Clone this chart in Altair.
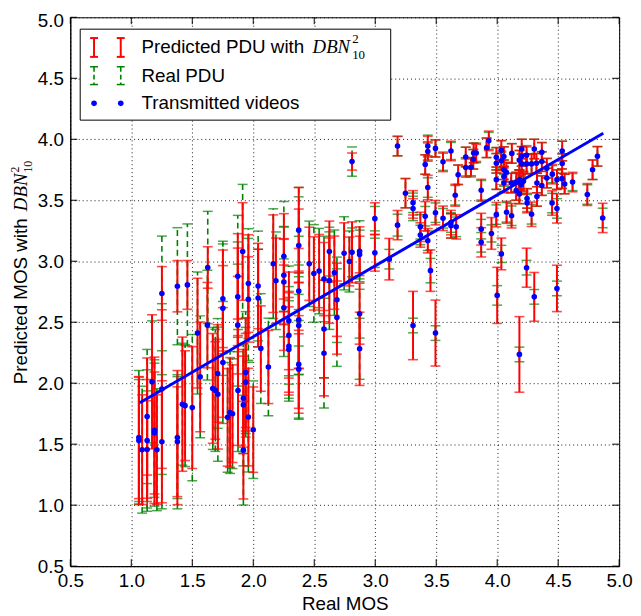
import altair as alt
import pandas as pd

# ---- data ----
real_mos = [1.062, 1.062, 1.089, 1.130, 1.130, 1.130, 1.170, 1.190, 1.190, 1.210,
            1.251, 1.251, 1.251, 1.378, 1.460, 1.378, 1.378, 1.419, 1.441, 1.500,
            1.543, 1.565, 1.624, 1.627, 1.668, 1.689, 1.708, 1.710, 1.751, 1.751,
            1.751, 1.790, 1.810, 1.830, 1.873, 1.873, 1.873, 1.875, 1.913, 1.919,
            1.919, 1.919, 1.938, 1.938, 1.960, 1.960, 1.960, 2.000, 2.040, 2.040,
            2.062, 2.124, 2.164, 2.186, 2.251, 2.251, 2.251, 2.251, 2.292, 2.292,
            2.292, 2.292, 2.373, 2.373, 2.373, 2.373, 2.373, 2.373, 2.373, 2.459,
            2.497, 2.540, 2.580, 2.624, 2.665, 2.624, 2.686, 2.686, 2.580, 2.580,
            2.745, 2.788, 2.810, 2.872, 2.872, 2.872, 2.872, 2.997, 2.997, 2.810,
            3.115, 3.183, 3.183, 3.248, 3.310, 3.310, 3.310, 3.370, 3.370, 3.410,
            3.410, 3.431, 3.431, 3.431, 3.431, 3.453, 3.494, 3.494, 3.494, 3.556,
            3.556, 3.621, 3.621, 3.621, 3.656, 3.664, 3.680, 3.742, 3.742, 3.785,
            3.804, 3.807, 3.828, 3.869, 3.869, 3.869, 3.913, 3.931, 3.953, 3.993,
            3.993, 3.993, 3.993, 4.000, 4.034, 4.034, 4.034, 4.055, 4.055, 4.055,
            4.055, 4.075, 4.077, 4.118, 4.115, 4.120, 4.156, 4.156, 4.182, 4.182,
            4.182, 4.182, 4.196, 4.201, 4.201, 4.201, 4.215, 4.241, 4.241, 4.241,
            4.245, 4.245, 4.282, 4.282, 4.304, 4.304, 4.322, 4.326, 4.326, 4.366,
            4.366, 4.366, 4.407, 4.407, 4.452, 4.450, 4.490, 4.490, 4.490, 4.531,
            4.533, 4.533, 4.553, 4.618, 4.739, 4.782, 4.822, 4.865]
pred_mos = [1.554, 1.530, 1.455, 1.727, 1.530, 1.457, 2.011, 1.614, 1.592, 1.455,
            1.952, 1.520, 2.736, 2.795, 2.806, 1.554, 1.520, 1.828, 1.816, 1.800,
            2.411, 2.052, 2.476, 2.949, 1.957, 1.941, 2.080, 1.910, 2.692, 2.614,
            2.170, 1.720, 1.760, 1.750, 2.876, 2.708, 2.476, 1.940, 3.080, 1.876,
            1.822, 1.451, 2.087, 2.008, 2.817, 2.687, 1.722, 1.619, 2.797, 2.698,
            2.284, 2.133, 2.980, 2.840, 3.040, 2.885, 2.830, 2.619, 2.511, 2.392,
            2.303, 2.276, 3.255, 3.128, 2.755, 2.519, 2.473, 2.154, 2.114, 2.979,
            2.900, 2.919, 2.854, 2.841, 2.906, 3.079, 2.684, 2.538, 2.444, 2.246,
            3.065, 2.998, 3.073, 3.082, 3.055, 2.570, 2.282, 3.349, 3.069, 3.817,
            3.017, 3.944, 3.296, 3.558, 3.479, 3.433, 2.473, 3.282, 3.215, 3.793,
            3.369, 3.944, 3.900, 3.604, 3.168, 2.923, 3.925, 3.398, 2.411, 3.815,
            3.352, 3.904, 3.317, 3.290, 3.541, 3.282, 3.709, 3.855, 3.769, 3.771,
            3.836, 3.888, 3.888, 3.582, 3.263, 3.155, 3.930, 3.987, 3.228, 3.852,
            3.803, 3.669, 3.382, 2.720, 3.909, 3.823, 3.060, 3.858, 3.750, 3.695,
            3.641, 3.730, 3.401, 3.373, 3.641, 3.884, 3.649, 3.580, 3.828, 3.669,
            3.552, 2.236, 3.628, 3.920, 3.860, 3.798, 3.655, 3.868, 3.798, 2.947,
            3.515, 3.477, 3.798, 3.385, 3.920, 2.708, 3.803, 3.641, 3.531, 3.893,
            3.817, 3.620, 3.763, 3.682, 3.714, 3.477, 3.669, 3.433, 2.777, 3.677,
            3.904, 3.801, 3.633, 3.649, 3.547, 3.750, 3.860, 3.355]
pred_pdu = [0.50, 0.52, 0.45, 0.48, 0.50, 0.40, 0.55, 0.60, 0.50, 0.45,
            0.65, 0.50, 0.22, 0.21, 0.20, 0.55, 0.45, 0.55, 0.45, 0.50,
            0.45, 0.45, 0.35, 0.17, 0.45, 0.40, 0.40, 0.45, 0.40, 0.35,
            0.45, 0.40, 0.45, 0.40, 0.35, 0.40, 0.40, 0.45, 0.40, 0.40,
            0.40, 0.40, 0.45, 0.40, 0.40, 0.35, 0.40, 0.35, 0.35, 0.40,
            0.35, 0.30, 0.40, 0.35, 0.35, 0.30, 0.35, 0.35, 0.40, 0.35,
            0.40, 0.35, 0.35, 0.30, 0.35, 0.40, 0.35, 0.40, 0.32, 0.30,
            0.30, 0.30, 0.30, 0.35, 0.30, 0.25, 0.30, 0.30, 0.40, 0.35,
            0.25, 0.20, 0.25, 0.20, 0.15, 0.25, 0.30, 0.13, 0.15, 0.07,
            0.17, 0.08, 0.12, 0.12, 0.10, 0.08, 0.28, 0.12, 0.10, 0.08,
            0.12, 0.08, 0.07, 0.10, 0.10, 0.17, 0.07, 0.10, 0.27, 0.08,
            0.10, 0.08, 0.10, 0.10, 0.09, 0.10, 0.08, 0.08, 0.08, 0.07,
            0.08, 0.08, 0.07, 0.09, 0.13, 0.12, 0.08, 0.08, 0.13, 0.08,
            0.08, 0.08, 0.10, 0.23, 0.08, 0.08, 0.13, 0.08, 0.08, 0.07,
            0.08, 0.08, 0.09, 0.10, 0.08, 0.08, 0.08, 0.08, 0.08, 0.08,
            0.08, 0.31, 0.08, 0.08, 0.08, 0.08, 0.08, 0.07, 0.08, 0.16,
            0.08, 0.08, 0.08, 0.10, 0.08, 0.20, 0.08, 0.08, 0.08, 0.08,
            0.08, 0.08, 0.08, 0.08, 0.08, 0.10, 0.08, 0.12, 0.19, 0.08,
            0.08, 0.08, 0.08, 0.08, 0.09, 0.08, 0.08, 0.12]
real_pdu = [0.55, 0.50, 0.52, 0.55, 0.58, 0.48, 0.50, 0.55, 0.60, 0.50,
            0.70, 0.55, 0.47, 0.48, 0.50, 0.50, 0.55, 0.50, 0.50, 0.60,
            0.50, 0.50, 0.45, 0.46, 0.50, 0.50, 0.45, 0.55, 0.45, 0.55,
            0.50, 0.45, 0.50, 0.45, 0.50, 0.45, 0.50, 0.50, 0.55, 0.45,
            0.50, 0.45, 0.50, 0.45, 0.45, 0.50, 0.45, 0.40, 0.45, 0.40,
            0.45, 0.40, 0.45, 0.40, 0.45, 0.40, 0.45, 0.40, 0.45, 0.40,
            0.45, 0.40, 0.35, 0.40, 0.45, 0.45, 0.40, 0.45, 0.40, 0.35,
            0.40, 0.35, 0.35, 0.40, 0.35, 0.20, 0.35, 0.40, 0.40, 0.45,
            0.30, 0.25, 0.20, 0.25, 0.20, 0.20, 0.25, 0.10, 0.12, 0.12,
            0.08, 0.08, 0.09, 0.12, 0.08, 0.10, 0.06, 0.10, 0.08, 0.08,
            0.08, 0.09, 0.08, 0.08, 0.08, 0.10, 0.07, 0.08, 0.06, 0.07,
            0.08, 0.07, 0.08, 0.10, 0.08, 0.08, 0.08, 0.08, 0.07, 0.08,
            0.08, 0.08, 0.08, 0.08, 0.08, 0.08, 0.08, 0.07, 0.07, 0.08,
            0.08, 0.08, 0.08, 0.08, 0.08, 0.07, 0.07, 0.08, 0.08, 0.08,
            0.07, 0.08, 0.08, 0.08, 0.08, 0.08, 0.08, 0.08, 0.08, 0.08,
            0.08, 0.06, 0.07, 0.08, 0.08, 0.08, 0.08, 0.08, 0.08, 0.06,
            0.08, 0.07, 0.08, 0.08, 0.08, 0.06, 0.08, 0.08, 0.08, 0.08,
            0.08, 0.08, 0.08, 0.08, 0.07, 0.08, 0.08, 0.08, 0.06, 0.08,
            0.08, 0.08, 0.08, 0.07, 0.08, 0.08, 0.08, 0.08]

# fitted line as drawn (end points)
line_x = [1.07, 4.87]
line_y = [1.84, 4.05]

tick_values = [0.5, 1.0, 1.5, 2.0, 2.5, 3.0, 3.5, 4.0, 4.5, 5.0]

W, H = 555, 555
FONT = "Liberation Sans"
SERIF = "Liberation Serif"
RED, GREEN, BLUE = "#ff0000", "#008000", "#0000ff"

df = pd.DataFrame({"real": real_mos, "pred": pred_mos,
                   "ppdu": pred_pdu, "rpdu": real_pdu})
df_line = pd.DataFrame({"real": line_x, "pred": line_y})
df_ticks = pd.DataFrame({"real": tick_values, "pred": tick_values})
one = pd.DataFrame({"k": [0]})

xs = alt.Scale(domain=[0.5, 5.0], nice=False, zero=False)
ys = alt.Scale(domain=[0.5, 5.0], nice=False, zero=False)
xaxis = alt.Axis(values=tick_values, format=".1f", title="Real MOS",
                 labelPadding=6, titlePadding=4, grid=True, labelFlush=False)
yaxis = alt.Axis(values=tick_values, format=".1f", title="", labelPadding=7, grid=True,
                 labelFlush=False,
                 labelBaseline={"expr": "datum.value >= 4.99 ? 'top' : 'middle'"},
                 labelOffset={"expr": "datum.value >= 4.99 ? -6 : 0"})

X = alt.X("real:Q", scale=xs, axis=xaxis)

def Y(field):
    return alt.Y(field, type="quantitative", scale=ys, axis=yaxis)

base = alt.Chart(df).transform_calculate(
    rlo="datum.pred - datum.ppdu", rhi="datum.pred + datum.ppdu",
    glo="datum.pred - datum.rpdu", ghi="datum.pred + datum.rpdu")

green_bar = base.mark_rule(color=GREEN, strokeWidth=1.6, strokeDash=[6, 4]).encode(
    x=X, y=Y("glo"), y2="ghi:Q")
green_cap1 = base.mark_tick(color=GREEN, orient="horizontal", size=10, thickness=1.5).encode(
    x=X, y=Y("glo"))
green_cap2 = base.mark_tick(color=GREEN, orient="horizontal", size=10, thickness=1.5).encode(
    x=X, y=Y("ghi"))
red_bar = base.mark_rule(color=RED, strokeWidth=2).encode(
    x=X, y=Y("rlo"), y2="rhi:Q")
red_cap1 = base.mark_tick(color=RED, orient="horizontal", size=10, thickness=1.6).encode(
    x=X, y=Y("rlo"))
red_cap2 = base.mark_tick(color=RED, orient="horizontal", size=10, thickness=1.6).encode(
    x=X, y=Y("rhi"))
dots = alt.Chart(df).mark_point(filled=True, color=BLUE, size=32, opacity=1).encode(
    x=X, y=Y("pred"))
fit = alt.Chart(df_line).mark_line(color=BLUE, strokeWidth=3).encode(
    x=X, y=Y("pred"))

# inward ticks on all four sides
TL = 7
tk = alt.Chart(df_ticks)
tick_b = tk.mark_rule(color="black").encode(x=X, y=alt.value(H), y2=alt.value(H - TL))
tick_t = tk.mark_rule(color="black").encode(x=X, y=alt.value(0), y2=alt.value(TL))
tick_l = tk.mark_rule(color="black").encode(y=Y("pred"), x=alt.value(0), x2=alt.value(TL))
tick_r = tk.mark_rule(color="black").encode(y=Y("pred"), x=alt.value(W), x2=alt.value(W - TL))

# legend (decoration)
leg_box = alt.Chart(one).mark_rect(fill="white", stroke="black", strokeWidth=1).encode(
    x=alt.value(10), x2=alt.value(324), y=alt.value(12), y2=alt.value(104))
seg_red = pd.DataFrame({
    "x1": [24, 51, 20, 20, 47, 47], "x2": [24, 51, 28, 28, 55, 55],
    "y1": [21, 21, 21, 40, 21, 40], "y2": [40, 40, 21, 40, 21, 40]})
seg_green_v = pd.DataFrame({"x1": [24, 51], "x2": [24, 51], "y1": [50, 50], "y2": [68, 68]})
seg_green_c = pd.DataFrame({
    "x1": [20, 20, 47, 47], "x2": [28, 28, 55, 55],
    "y1": [50, 68, 50, 68], "y2": [50, 68, 50, 68]})
def seg_enc(ch):
    return ch.encode(x=alt.X("x1:Q", scale=None), x2="x2:Q",
                     y=alt.Y("y1:Q", scale=None), y2="y2:Q")
leg_red = seg_enc(alt.Chart(seg_red).mark_rule(color=RED, strokeWidth=2))
leg_green_v = seg_enc(alt.Chart(seg_green_v).mark_rule(color=GREEN, strokeWidth=1.6, strokeDash=[5, 3]))
leg_green_c = seg_enc(alt.Chart(seg_green_c).mark_rule(color=GREEN, strokeWidth=1.5))
leg_dots = alt.Chart(pd.DataFrame({"x": [24, 51], "y": [87, 87]})).mark_point(
    filled=True, color=BLUE, size=32, opacity=1).encode(
    x=alt.X("x:Q", scale=None), y=alt.Y("y:Q", scale=None))

def txt(text, x, y, size=19, font=FONT, style="normal", angle=0, align="left"):
    return alt.Chart(one).mark_text(text=text, font=font, fontSize=size, fontStyle=style,
                                    align=align, baseline="middle", angle=angle,
                                    color="black").encode(x=alt.value(x), y=alt.value(y))

leg_texts = [
    txt("Predicted PDU with", 72, 30),
    txt("DBN", 245, 30, font=SERIF, style="italic"),
    txt("2", 285, 22, size=13, font=SERIF),
    txt("10", 285, 38, size=13, font=SERIF),
    txt("Real PDU", 72, 59),
    txt("Transmitted videos", 72, 87),
]

ytitle = [
    txt("Predicted MOS with", -50, 371, angle=270),
    txt("DBN", -50, 196, font=SERIF, style="italic", angle=270),
    txt("2", -56, 157, size=12, font=SERIF, angle=270),
    txt("10", -43, 157, size=12, font=SERIF, angle=270),
]

chart = alt.layer(
    green_bar, green_cap1, green_cap2, red_bar, red_cap1, red_cap2, fit, dots,
    tick_b, tick_t, tick_l, tick_r,
    leg_box, leg_red, leg_green_v, leg_green_c, leg_dots, *leg_texts, *ytitle
).properties(
    width=W, height=H,
    autosize=alt.AutoSizeParams(type="none"),
    padding={"left": 63, "top": 6, "right": 14, "bottom": 47},
).configure_axis(
    grid=True, gridColor="black", gridDash=[1, 3], gridWidth=0.9,
    domainColor="black", domainWidth=1, ticks=False,
    labelFont=FONT, labelFontSize=19, labelColor="black",
    titleFont=FONT, titleFontSize=19, titleFontWeight="normal", titleColor="black",
).configure_view(stroke="black", strokeWidth=1)

chart.save("out.html", embed_options={"renderer": "svg", "actions": False})
